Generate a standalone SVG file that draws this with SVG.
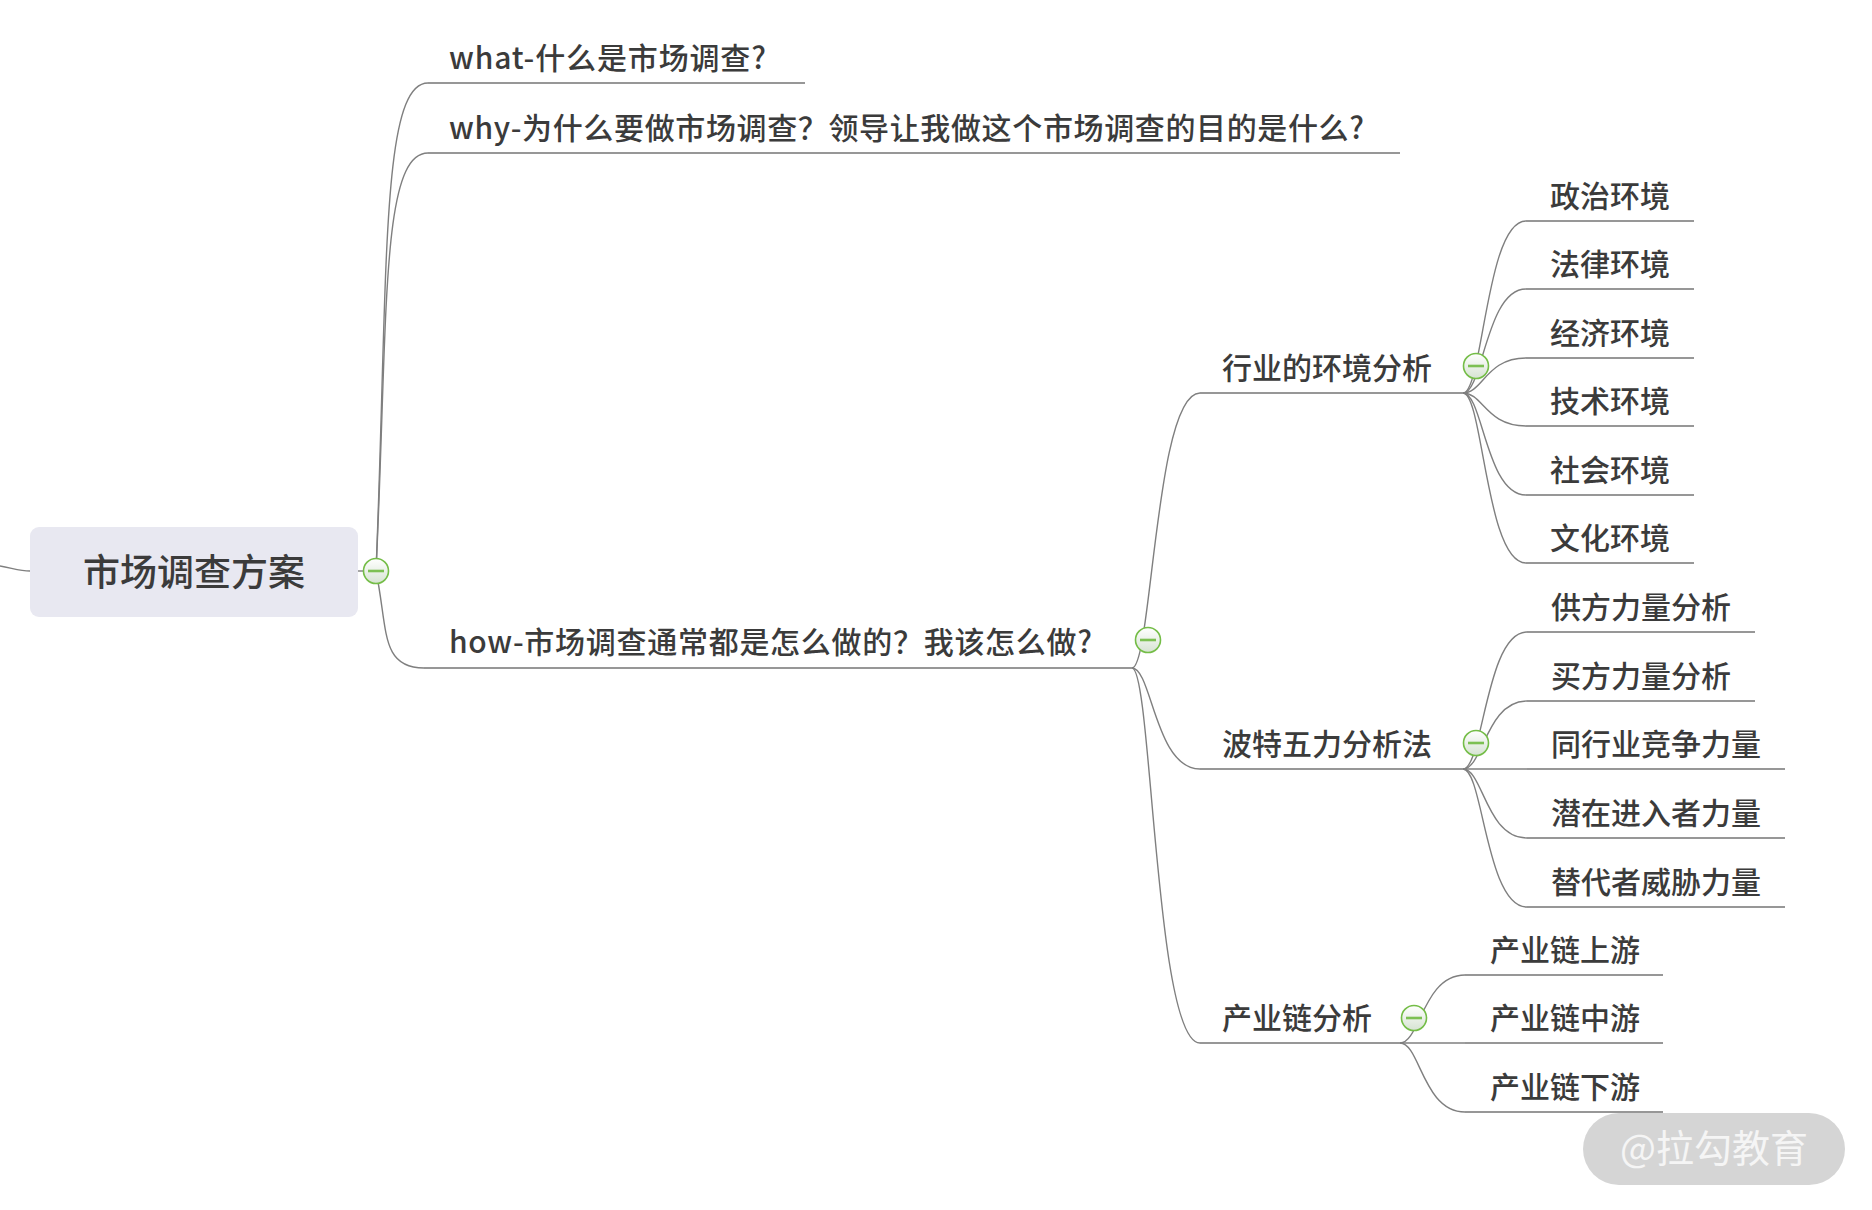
<svg xmlns="http://www.w3.org/2000/svg" width="1872" height="1210" viewBox="0 0 1872 1210">
<defs>
<linearGradient id="cg" x1="0" y1="0" x2="0" y2="1">
<stop offset="0" stop-color="#ffffff"/>
<stop offset="1" stop-color="#d6e3d2"/>
</linearGradient>
<g id="collapse">
<circle cx="0" cy="0" r="12.5" fill="url(#cg)" stroke="#74bd47" stroke-width="1.6"/>
<line x1="-8" y1="0" x2="8" y2="0" stroke="#7cc052" stroke-width="2.6"/>
</g>
</defs>
<style>
text{font-family:"Noto Sans CJK SC","Noto Sans",sans-serif;fill:#3b3b3b;font-weight:500}
.t{font-size:30px}
.root{font-size:37px;text-anchor:middle}
.ul{stroke:#979797;stroke-width:2;fill:none}
.c{stroke:#7f7f7f;stroke-width:1.4;fill:none}
.wm{font-size:38px;fill:#f5f5f5;text-anchor:middle;font-weight:400}
</style>
<rect width="1872" height="1210" fill="#ffffff"/>

<g id="connectors">
<path class="c" d="M0,566 C12,568 20,571 30,571"/>
<path class="c" d="M358,571 L376,571"/>
<path class="c" d="M376,571 C388,278 380,83 428,83"/>
<path class="c" d="M376,571 C388,320 380,153 428,153"/>
<path class="c" d="M376,571 C388,629 380,668 424,668"/>
<path class="c" d="M1132,668 C1152,668 1155,393 1200,393"/>
<path class="c" d="M1132,668 C1152,668 1155,769 1200,769"/>
<path class="c" d="M1132,668 C1152,668 1155,1043 1200,1043"/>
<path class="c" d="M1463,393 C1483,393 1486,221 1526,221"/>
<path class="c" d="M1463,393 C1483,393 1486,289 1526,289"/>
<path class="c" d="M1463,393 C1483,393 1486,358 1526,358"/>
<path class="c" d="M1463,393 C1483,393 1486,426 1526,426"/>
<path class="c" d="M1463,393 C1483,393 1486,495 1526,495"/>
<path class="c" d="M1463,393 C1483,393 1486,563 1526,563"/>
<path class="c" d="M1463,769 C1483,769 1486,632 1527,632"/>
<path class="c" d="M1463,769 C1483,769 1486,701 1527,701"/>
<path class="c" d="M1463,769 L1527,769"/>
<path class="c" d="M1463,769 C1483,769 1486,838 1527,838"/>
<path class="c" d="M1463,769 C1483,769 1486,907 1527,907"/>
<path class="c" d="M1400,1043 C1420,1043 1423,975 1465,975"/>
<path class="c" d="M1400,1043 L1465,1043"/>
<path class="c" d="M1400,1043 C1420,1043 1423,1112 1465,1112"/>
</g>

<g id="root">
<rect x="30" y="527" width="328" height="90" rx="9" fill="#e8e8f1"/>
<text class="root" x="194" y="586">市场调查方案</text>
<use href="#collapse" x="376" y="571"/>
</g>

<g id="what">
<line class="ul" x1="428" y1="83" x2="805" y2="83"/>
<text class="t" x="449" y="69" textLength="317">what-什么是市场调查?</text>
</g>
<g id="why">
<line class="ul" x1="428" y1="153" x2="1400" y2="153"/>
<text class="t" x="449" y="139" textLength="915">why-为什么要做市场调查？领导让我做这个市场调查的目的是什么?</text>
</g>
<g id="how">
<line class="ul" x1="424" y1="668" x2="1132" y2="668"/>
<text class="t" x="449" y="653" textLength="643">how-市场调查通常都是怎么做的？我该怎么做?</text>
<use href="#collapse" x="1148" y="640"/>
</g>

<g id="industry-env">
<line class="ul" x1="1200" y1="393" x2="1463" y2="393"/>
<text class="t" x="1222" y="379">行业的环境分析</text>
<use href="#collapse" x="1476" y="366"/>
</g>
<g id="porter">
<line class="ul" x1="1200" y1="769" x2="1463" y2="769"/>
<text class="t" x="1222" y="755">波特五力分析法</text>
<use href="#collapse" x="1476" y="743"/>
</g>
<g id="chain">
<line class="ul" x1="1200" y1="1043" x2="1400" y2="1043"/>
<text class="t" x="1222" y="1029">产业链分析</text>
<use href="#collapse" x="1414" y="1018"/>
</g>

<g id="env-political"><line class="ul" x1="1526" y1="221" x2="1694" y2="221"/><text class="t" x="1550" y="207">政治环境</text></g>
<g id="env-legal"><line class="ul" x1="1526" y1="289" x2="1694" y2="289"/><text class="t" x="1550" y="275">法律环境</text></g>
<g id="env-economic"><line class="ul" x1="1526" y1="358" x2="1694" y2="358"/><text class="t" x="1550" y="344">经济环境</text></g>
<g id="env-tech"><line class="ul" x1="1526" y1="426" x2="1694" y2="426"/><text class="t" x="1550" y="412">技术环境</text></g>
<g id="env-social"><line class="ul" x1="1526" y1="495" x2="1694" y2="495"/><text class="t" x="1550" y="481">社会环境</text></g>
<g id="env-culture"><line class="ul" x1="1526" y1="563" x2="1694" y2="563"/><text class="t" x="1550" y="549">文化环境</text></g>

<g id="p-supplier"><line class="ul" x1="1527" y1="632" x2="1755" y2="632"/><text class="t" x="1551" y="618">供方力量分析</text></g>
<g id="p-buyer"><line class="ul" x1="1527" y1="701" x2="1755" y2="701"/><text class="t" x="1551" y="687">买方力量分析</text></g>
<g id="p-rivalry"><line class="ul" x1="1527" y1="769" x2="1785" y2="769"/><text class="t" x="1551" y="755">同行业竞争力量</text></g>
<g id="p-entrant"><line class="ul" x1="1527" y1="838" x2="1785" y2="838"/><text class="t" x="1551" y="824">潜在进入者力量</text></g>
<g id="p-substitute"><line class="ul" x1="1527" y1="907" x2="1785" y2="907"/><text class="t" x="1551" y="893">替代者威胁力量</text></g>

<g id="c-up"><line class="ul" x1="1465" y1="975" x2="1663" y2="975"/><text class="t" x="1490" y="961">产业链上游</text></g>
<g id="c-mid"><line class="ul" x1="1465" y1="1043" x2="1663" y2="1043"/><text class="t" x="1490" y="1029">产业链中游</text></g>
<g id="c-down"><line class="ul" x1="1465" y1="1112" x2="1663" y2="1112"/><text class="t" x="1490" y="1098">产业链下游</text></g>

<g id="watermark">
<rect x="1583" y="1113" width="262" height="72" rx="36" fill="#d5d5d5"/>
<text class="wm" x="1714" y="1162">@拉勾教育</text>
</g>
</svg>
